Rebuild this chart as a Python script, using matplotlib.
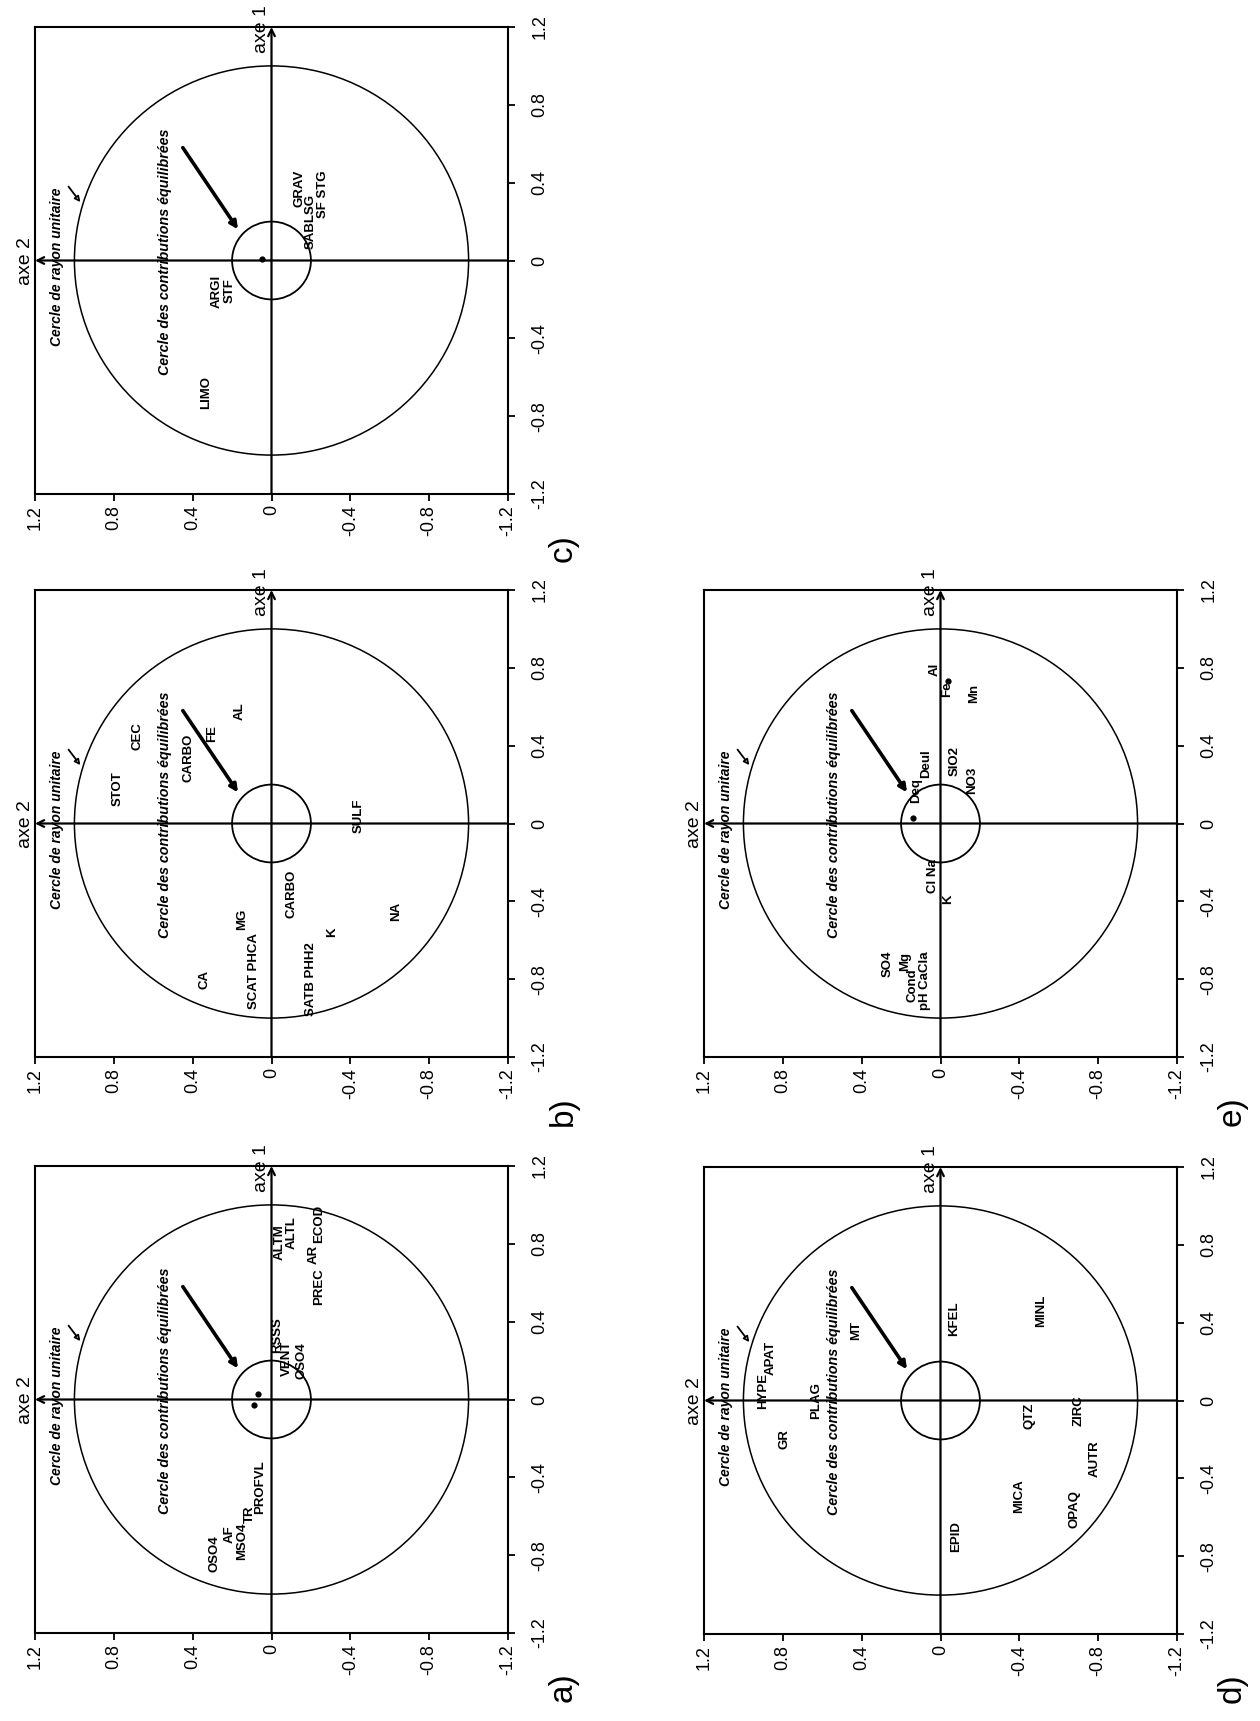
import matplotlib
matplotlib.use("Agg")
import matplotlib.pyplot as plt
from matplotlib.patches import Circle

plt.rcParams['font.family'] = ['Liberation Sans', 'DejaVu Sans']

# taille de la page et des cadres (pixels)
FIG_W, FIG_H = 1260, 1721
BOX_W, BOX_H = 473, 467

# axes factoriels
AX_LIM = 1.2
TICKS = [-1.2, -0.8, -0.4, 0, 0.4, 0.8, 1.2]
TICK_LABELS = ['-1.2', '-0.8', '-0.4', '0', '0.4', '0.8', '1.2']
UNIT_RADIUS = 1.0      # cercle de rayon unitaire
EQ_RADIUS = 0.2        # cercle des contributions equilibrees

# panneau c
c_names = ["LIMO", "ARGI", "STF", "GRAV", "SABLSG", "SF STG"]
c_axe1 = [-0.68, -0.16, -0.155, 0.37, 0.20, 0.34]
c_axe2 = [0.33, 0.28, 0.21, -0.14, -0.20, -0.26]
c_dot1 = [0.01]
c_dot2 = [0.046]

# panneau b
b_names = ["STOT", "CEC", "CARBO", "FE", "AL", "SULF", "CARBO", "NA", "K",
           "MG", "SCAT PHCA", "SATB PHH2", "CA"]
b_axe1 = [0.18, 0.45, 0.34, 0.46, 0.58, 0.04, -0.36, -0.45, -0.56,
          -0.49, -0.76, -0.80, -0.80]
b_axe2 = [0.78, 0.68, 0.42, 0.30, 0.16, -0.44, -0.10, -0.63, -0.31,
          0.15, 0.09, -0.20, 0.34]
b_dot1 = []
b_dot2 = []

# panneau a
a_names = ["OSO4", "AF", "MSO4", "TR", "PROFVL", "RSSS", "VENT", "OSO4",
           "ALTM", "ALTL", "PREC", "AR", "ECOD"]
a_axe1 = [-0.79, -0.69, -0.73, -0.59, -0.45, 0.33, 0.21, 0.20,
          0.81, 0.86, 0.58, 0.745, 0.90]
a_axe2 = [0.29, 0.21, 0.15, 0.11, 0.06, -0.03, -0.08, -0.15,
          -0.04, -0.10, -0.24, -0.215, -0.24]
a_dot1 = [-0.03, 0.03]
a_dot2 = [0.09, 0.07]

# panneau e
e_names = ["Al", "Fe", "Mn", "SIO2", "NO3", "Deq", "Deul", "Cl Na", "K",
           "SO4", "Mg", "Cond", "pH CaCla"]
e_axe1 = [0.79, 0.69, 0.67, 0.32, 0.22, 0.17, 0.31, -0.27, -0.39,
          -0.72, -0.71, -0.83, -0.81]
e_axe2 = [0.03, -0.035, -0.17, -0.07, -0.16, 0.125, 0.075, 0.04, -0.04,
          0.27, 0.18, 0.14, 0.08]
e_dot1 = [0.73, 0.03]
e_dot2 = [-0.04, 0.14]

# panneau d
d_names = ["MT", "KFEL", "MINL", "QTZ", "ZIRC", "AUTR", "MICA", "OPAQ",
           "EPID", "HYPE", "APAT", "GR", "PLAG"]
d_axe1 = [0.36, 0.42, 0.46, -0.08, -0.05, -0.30, -0.49, -0.56,
          -0.70, 0.05, 0.22, -0.20, 0.0]
d_axe2 = [0.43, -0.07, -0.51, -0.45, -0.70, -0.78, -0.40, -0.68,
          -0.08, 0.90, 0.86, 0.79, 0.63]
d_dot1 = []
d_dot2 = []

# annotations communes (axe 1, axe 2)
note_unit = "Cercle de rayon unitaire"
note_unit_pos = (-0.03, 1.09)
note_unit_arrow = [(0.38, 1.03), (0.30, 0.97)]
note_eq = "Cercle des contributions équilibrées"
note_eq_pos = (0.045, 0.54)
note_eq_arrow = [(0.58, 0.45), (0.16, 0.17)]

panels = [
    ("c)", (35, 27), c_names, c_axe1, c_axe2, c_dot1, c_dot2),
    ("b)", (35, 590), b_names, b_axe1, b_axe2, b_dot1, b_dot2),
    ("a)", (35, 1166), a_names, a_axe1, a_axe2, a_dot1, a_dot2),
    ("e)", (704, 590), e_names, e_axe1, e_axe2, e_dot1, e_dot2),
    ("d)", (704, 1167), d_names, d_axe1, d_axe2, d_dot1, d_dot2),
]

fig = plt.figure(figsize=(FIG_W / 100, FIG_H / 100), dpi=100)


def draw_panel(letter, box, names, axe1, axe2, dot1, dot2):
    left, top = box
    ax = fig.add_axes([left / FIG_W, 1 - (top + BOX_H) / FIG_H,
                       BOX_W / FIG_W, BOX_H / FIG_H])
    # axe 2 horizontal (1.2 a gauche), axe 1 vertical
    ax.set_xlim(AX_LIM, -AX_LIM)
    ax.set_ylim(-AX_LIM, AX_LIM)
    ax.set_xticks(TICKS, labels=TICK_LABELS)
    ax.set_yticks(TICKS, labels=TICK_LABELS)
    ax.yaxis.tick_right()
    ax.tick_params(axis='x', direction='out', length=5, width=1.3, pad=3,
                   labelsize=13, labelrotation=90)
    ax.tick_params(axis='y', direction='out', length=5, width=1.3, pad=12,
                   labelsize=13, labelrotation=90)
    for lab in ax.get_yticklabels():
        lab.set_va('center')
    for s in ax.spines.values():
        s.set_linewidth(1.5)

    # axes avec fleche
    ax.annotate('', xy=(AX_LIM, 0), xytext=(-AX_LIM, 0),
                arrowprops=dict(arrowstyle='->', lw=1.6, shrinkA=0, shrinkB=0,
                                mutation_scale=12))
    ax.annotate('', xy=(0, AX_LIM), xytext=(0, -AX_LIM),
                arrowprops=dict(arrowstyle='->', lw=1.6, shrinkA=0, shrinkB=0,
                                mutation_scale=12))
    ax.text(-0.021, 0.499, "axe 2", transform=ax.transAxes, rotation=90,
            ha='center', va='center', fontsize=14, clip_on=False)
    ax.text(0.478, 0.996, "axe 1", transform=ax.transAxes, rotation=90,
            ha='center', va='center', fontsize=14, clip_on=False)

    ax.add_patch(Circle((0, 0), UNIT_RADIUS, fill=False, lw=1.1, color='black'))
    ax.add_patch(Circle((0, 0), EQ_RADIUS, fill=False, lw=1.3, color='black'))

    # annotations
    ax.text(note_unit_pos[1], note_unit_pos[0], note_unit, rotation=90,
            rotation_mode='anchor', ha='center', va='center', fontsize=10,
            fontweight='bold', fontstyle='italic')
    ax.annotate('', xy=(note_unit_arrow[1][1], note_unit_arrow[1][0]),
                xytext=(note_unit_arrow[0][1], note_unit_arrow[0][0]),
                arrowprops=dict(arrowstyle='-|>', lw=1.3, fc='white',
                                mutation_scale=8, shrinkA=0, shrinkB=0))
    ax.text(note_eq_pos[1], note_eq_pos[0], note_eq, rotation=90,
            rotation_mode='anchor', ha='center', va='center', fontsize=10.3,
            fontweight='bold', fontstyle='italic')
    ax.annotate('', xy=(note_eq_arrow[1][1], note_eq_arrow[1][0]),
                xytext=(note_eq_arrow[0][1], note_eq_arrow[0][0]),
                arrowprops=dict(arrowstyle='-|>', lw=2.6, fc='white',
                                mutation_scale=11, shrinkA=0, shrinkB=0))

    # variables
    for name, v1, v2 in zip(names, axe1, axe2):
        ax.text(v2, v1, name, rotation=90, rotation_mode='anchor',
                ha='center', va='center', fontsize=9.5, fontweight='bold')
    if dot1:
        ax.scatter(dot2, dot1, s=12, color='black', zorder=3)

    ax.text(1.116, -0.116, letter, transform=ax.transAxes, rotation=90,
            ha='center', va='center', fontsize=24, fontweight='light',
            clip_on=False)
    return ax


for p in panels:
    draw_panel(*p)

fig.savefig("out.png", dpi=100, facecolor='white')
